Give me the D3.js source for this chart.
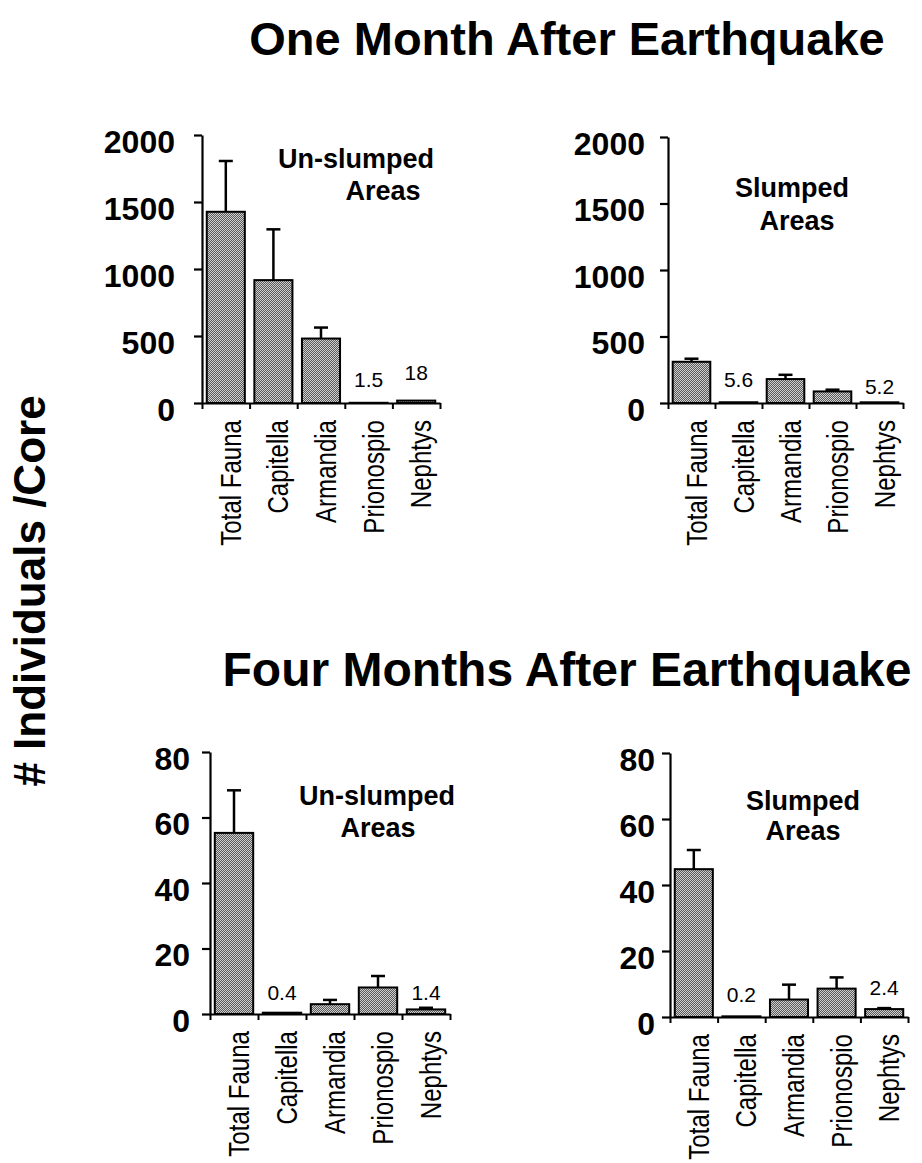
<!DOCTYPE html>
<html><head><meta charset="utf-8">
<script src="https://cdn.jsdelivr.net/npm/d3@7"></script>
<style>body{margin:0;background:#fff} svg{display:block}</style>
</head><body>
<svg id="chart" width="922" height="1163"></svg>
<script>
// ---------- DATA ----------
const categories = ["Total Fauna", "Capitella", "Armandia", "Prionospio", "Nephtys"];

const oneMonthUnslumped    = [1427, 917, 481, 1.5, 18];
const oneMonthUnslumpedErr = [379, 379, 82, 0, 0];
const oneMonthSlumped      = [310, 5.6, 180, 87, 5.2];
const oneMonthSlumpedErr   = [23, 0, 32, 13, 0];

const fourMonthUnslumped    = [55.3, 0.4, 3.0, 8.1, 1.4];
const fourMonthUnslumpedErr = [13.0, 0, 1.3, 3.5, 0.5];
const fourMonthSlumped      = [44.8, 0.2, 5.3, 8.6, 2.4];
const fourMonthSlumpedErr   = [5.8, 0, 4.5, 3.4, 0.3];

const oneMonthUnslumpedLabels  = ["", "", "", "1.5", "18"];
const oneMonthSlumpedLabels    = ["", "5.6", "", "", "5.2"];
const fourMonthUnslumpedLabels = ["", "0.4", "", "", "1.4"];
const fourMonthSlumpedLabels   = ["", "0.2", "", "", "2.4"];

const oneMonthTicks  = [0, 500, 1000, 1500, 2000];
const fourMonthTicks = [0, 20, 40, 60, 80];

const titleOne  = "One Month After Earthquake";
const titleFour = "Four Months After Earthquake";
const yLabel    = "# Individuals /Core";
const noteUnslumped = ["Un-slumped", "Areas"];
const noteSlumped   = ["Slumped", "Areas"];

// ---------- LAYOUT ----------
const FONT = "'Liberation Sans', Arial, Helvetica, sans-serif";
const panels = [
  {values: oneMonthUnslumped, errors: oneMonthUnslumpedErr, labels: oneMonthUnslumpedLabels,
   ticks: oneMonthTicks, x0: 202, x1: 440, yTop: 135, yBot: 403, pad: 19,
   labelOff: [0, 0, 0, 16, 23], note: noteUnslumped, notePos: [[356, 168], [383, 200]]},
  {values: oneMonthSlumped, errors: oneMonthSlumpedErr, labels: oneMonthSlumpedLabels,
   ticks: oneMonthTicks, x0: 668, x1: 903, yTop: 137, yBot: 403, pad: 15,
   labelOff: [0, 16, 0, 0, 9], note: noteSlumped, notePos: [[792, 197], [797, 230]]},
  {values: fourMonthUnslumped, errors: fourMonthUnslumpedErr, labels: fourMonthUnslumpedLabels,
   ticks: fourMonthTicks, x0: 210, x1: 450, yTop: 752, yBot: 1014, pad: 12,
   labelOff: [0, 14, 0, 0, 14], note: noteUnslumped, notePos: [[377, 805], [378, 837]]},
  {values: fourMonthSlumped, errors: fourMonthSlumpedErr, labels: fourMonthSlumpedLabels,
   ticks: fourMonthTicks, x0: 670, x1: 908, yTop: 753, yBot: 1017, pad: 7,
   labelOff: [0, 15, 0, 0, 22], note: noteSlumped, notePos: [[803, 810], [803, 840]]}
];

const svg = d3.select("#chart");
svg.append("rect").attr("width", 922).attr("height", 1163).attr("fill", "#fff");

const defs = svg.append("defs");
const pat = defs.append("pattern").attr("id", "stipple")
  .attr("width", 2).attr("height", 2).attr("patternUnits", "userSpaceOnUse");
pat.append("rect").attr("width", 2).attr("height", 2).attr("fill", "#5a5a5a");
pat.append("rect").attr("x", 0).attr("y", 0).attr("width", 1).attr("height", 1).attr("fill", "#cfcfcf");
pat.append("rect").attr("x", 1).attr("y", 1).attr("width", 1).attr("height", 1).attr("fill", "#cfcfcf");

// Titles
svg.append("text").attr("x", 567).attr("y", 55).attr("text-anchor", "middle")
  .attr("font-family", FONT).attr("font-weight", "bold").attr("font-size", 47).text(titleOne);
svg.append("text").attr("x", 567).attr("y", 686).attr("text-anchor", "middle")
  .attr("font-family", FONT).attr("font-weight", "bold").attr("font-size", 48).text(titleFour);

// Y label
svg.append("text").attr("transform", "translate(45,591) rotate(-90)").attr("text-anchor", "middle")
  .attr("font-family", FONT).attr("font-weight", "bold").attr("font-size", 44).text(yLabel);

panels.forEach(p => {
  const max = p.ticks[p.ticks.length - 1];
  const y = d3.scaleLinear().domain([0, max]).range([p.yBot, p.yTop]);
  const xb = d3.scaleBand().domain(categories).range([p.x0, p.x1]).paddingInner(0.2).paddingOuter(0.1);
  const xEdge = d3.scaleLinear().domain([0, categories.length]).range([p.x0, p.x1]);
  const g = svg.append("g");

  // bars
  g.selectAll("rect.bar").data(categories).join("rect").attr("class", "bar")
    .attr("x", c => xb(c)).attr("width", xb.bandwidth())
    .attr("y", (c, i) => y(p.values[i]))
    .attr("height", (c, i) => p.yBot - y(p.values[i]))
    .attr("fill", "url(#stipple)").attr("stroke", "#000").attr("stroke-width", 2);

  // error bars (upper only)
  const errIdx = categories.map((c, i) => i).filter(i => p.errors[i] > 0);
  errIdx.forEach(i => {
    const cx = xb(categories[i]) + xb.bandwidth() / 2;
    const yt = y(p.values[i] + p.errors[i]);
    g.append("line").attr("x1", cx).attr("x2", cx).attr("y1", y(p.values[i])).attr("y2", yt)
      .attr("stroke", "#000").attr("stroke-width", 2.5);
    g.append("line").attr("x1", cx - 7).attr("x2", cx + 7).attr("y1", yt).attr("y2", yt)
      .attr("stroke", "#000").attr("stroke-width", 2.5);
  });

  // y axis
  const ya = g.append("g").attr("transform", `translate(${p.x0},0)`)
    .call(d3.axisLeft(y).tickValues(p.ticks).tickSize(8).tickSizeOuter(0).tickPadding(p.pad).tickFormat(d3.format("d")));
  ya.select(".domain").attr("stroke-width", 2.2);
  ya.selectAll(".tick line").attr("stroke-width", 2.2);
  ya.selectAll(".tick text").attr("y", 7).attr("fill", "#000")
    .attr("font-family", FONT).attr("font-weight", "bold").attr("font-size", 32);

  // x axis
  const xa = g.append("g").attr("transform", `translate(0,${p.yBot})`)
    .call(d3.axisBottom(xEdge).tickValues(d3.range(categories.length + 1)).tickSize(6).tickSizeOuter(0).tickFormat(""));
  xa.select(".domain").attr("stroke-width", 2.2);
  xa.selectAll(".tick line").attr("stroke-width", 2);

  // category labels
  g.selectAll("text.cat").data(categories).join("text").attr("class", "cat")
    .attr("transform", c => `translate(${xb(c) + xb.bandwidth() / 2 + 15},${p.yBot + 17}) rotate(-90) scale(0.83,1)`)
    .attr("text-anchor", "end").attr("font-family", FONT).attr("font-size", 29).text(c => c);

  // value labels
  p.labels.forEach((t, i) => {
    if (!t) return;
    g.append("text").attr("x", xb(categories[i]) + xb.bandwidth() / 2).attr("y", p.yBot - p.labelOff[i])
      .attr("text-anchor", "middle").attr("font-family", FONT).attr("font-size", 21).text(t);
  });

  // panel notes
  p.note.forEach((t, k) => {
    g.append("text").attr("x", p.notePos[k][0]).attr("y", p.notePos[k][1]).attr("text-anchor", "middle")
      .attr("font-family", FONT).attr("font-weight", "bold").attr("font-size", 27).text(t);
  });
});
</script>
</body></html>
